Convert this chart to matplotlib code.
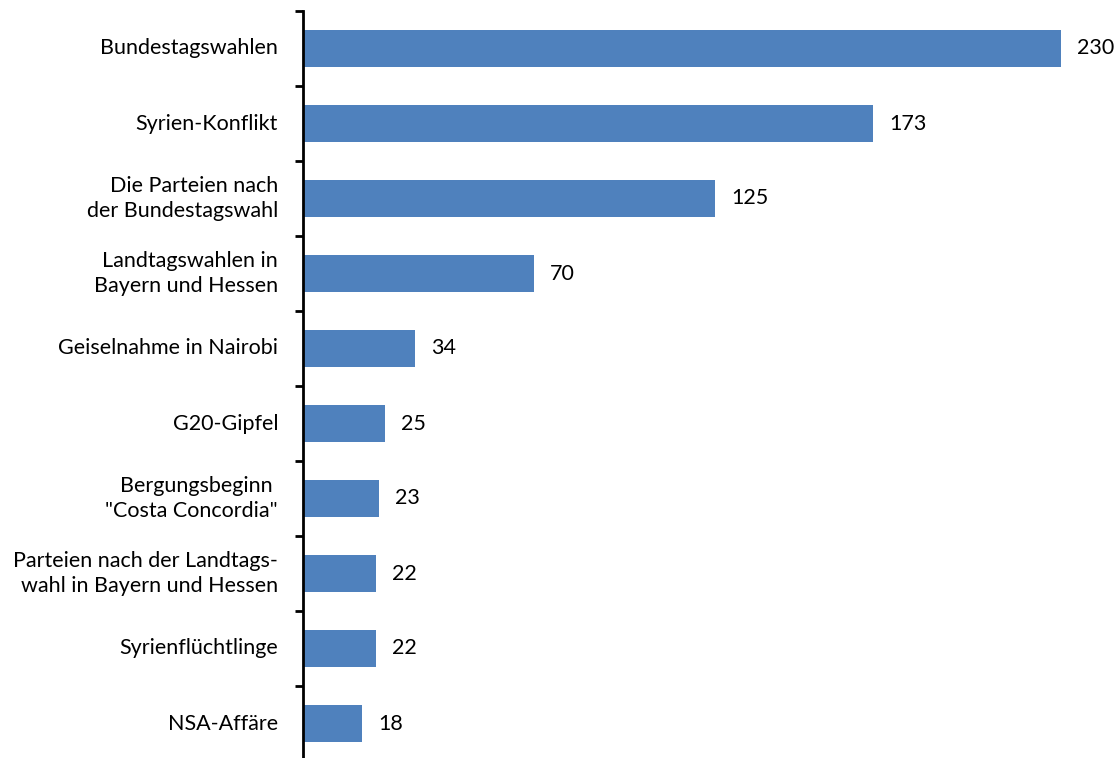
import matplotlib
matplotlib.use("Agg")
import matplotlib.pyplot as plt

categories = [
    "Bundestagswahlen",
    "Syrien-Konflikt",
    "Die Parteien nach\nder Bundestagswahl",
    "Landtagswahlen in\nBayern und Hessen",
    "Geiselnahme in Nairobi",
    "G20-Gipfel",
    "Bergungsbeginn \n\"Costa Concordia\"",
    "Parteien nach der Landtags-\nwahl in Bayern und Hessen",
    "Syrienflüchtlinge",
    "NSA-Affäre",
]
values = [230, 173, 125, 70, 34, 25, 23, 22, 22, 18]

plt.rcParams["font.family"] = ["Lato", "DejaVu Sans"]

W, H = 1119, 758
fig = plt.figure(figsize=(W / 100, H / 100), dpi=100)

# axes placed in pixel terms: spine at x=303, category band from y=11 to y=761
left_px, top_px, bottom_px = 303, 11, 761
px_per_unit = (1062 - 304) / 230.0
xmax = 245
ax = fig.add_axes([left_px / W, (H - bottom_px) / H,
                   xmax * px_per_unit / W, (bottom_px - top_px) / H])

n = len(categories)
pos = list(range(n))
ax.barh(pos, values, height=0.5, color="#4F81BD", edgecolor="none")
ax.set_ylim(n - 0.5, -0.5)
ax.set_xlim(0, xmax)

fs = 15.5
for y, v in zip(pos, values):
    ax.annotate(str(v), xy=(v, y), xytext=(16, 0), textcoords="offset pixels",
                ha="left", va="center", fontsize=fs, color="black")

for y, lab in zip(pos, categories):
    ax.annotate(lab, xy=(0, y), xycoords="data", xytext=(-25, 0),
                textcoords="offset pixels", ha="right", va="center",
                multialignment="right", fontsize=fs, color="black",
                annotation_clip=False, linespacing=1.3)

# ticks at category boundaries
ax.set_yticks([i - 0.5 for i in range(n + 1)])
ax.set_yticklabels([])
ax.tick_params(axis="y", direction="out", length=6, width=2, color="black")
ax.set_xticks([])
for s in ["top", "right", "bottom"]:
    ax.spines[s].set_visible(False)
ax.spines["left"].set_linewidth(2)

fig.savefig("out.png", dpi=100)
